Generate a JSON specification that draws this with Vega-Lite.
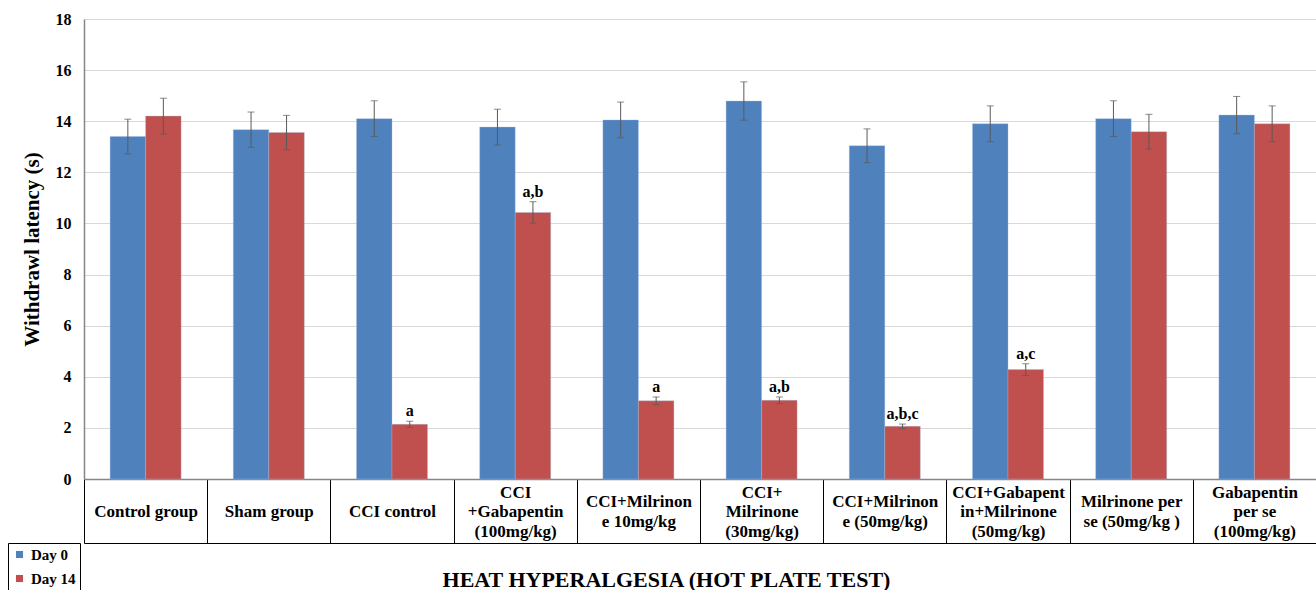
{
  "$schema": "https://vega.github.io/schema/vega-lite/v6.json",
  "width": 1232,
  "height": 460,
  "autosize": {"type": "none"},
  "padding": {"left": 84, "top": 19, "right": 0, "bottom": 111},
  "config": {"view": {"stroke": null}, "font": "Liberation Serif"},
  "data": {
    "values": [
      {"group": "Control group", "day": "Day 0", "mean": 13.4, "lo": 12.72, "hi": 14.08, "sig": ""},
      {"group": "Control group", "day": "Day 14", "mean": 14.2, "lo": 13.5, "hi": 14.9, "sig": ""},
      {"group": "Sham group", "day": "Day 0", "mean": 13.67, "lo": 12.98, "hi": 14.36, "sig": ""},
      {"group": "Sham group", "day": "Day 14", "mean": 13.56, "lo": 12.89, "hi": 14.23, "sig": ""},
      {"group": "CCI control", "day": "Day 0", "mean": 14.1, "lo": 13.4, "hi": 14.8, "sig": ""},
      {"group": "CCI control", "day": "Day 14", "mean": 2.14, "lo": 2.02, "hi": 2.26, "sig": "a"},
      {"group": "CCI|+Gabapentin|(100mg/kg)", "day": "Day 0", "mean": 13.77, "lo": 13.07, "hi": 14.47, "sig": ""},
      {"group": "CCI|+Gabapentin|(100mg/kg)", "day": "Day 14", "mean": 10.43, "lo": 10.01, "hi": 10.85, "sig": "a,b"},
      {"group": "CCI+Milrinon|e 10mg/kg", "day": "Day 0", "mean": 14.05, "lo": 13.35, "hi": 14.75, "sig": ""},
      {"group": "CCI+Milrinon|e 10mg/kg", "day": "Day 14", "mean": 3.06, "lo": 2.91, "hi": 3.21, "sig": "a"},
      {"group": "CCI+|Milrinone|(30mg/kg)", "day": "Day 0", "mean": 14.79, "lo": 14.04, "hi": 15.54, "sig": ""},
      {"group": "CCI+|Milrinone|(30mg/kg)", "day": "Day 14", "mean": 3.08, "lo": 2.95, "hi": 3.21, "sig": "a,b"},
      {"group": "CCI+Milrinon|e (50mg/kg)", "day": "Day 0", "mean": 13.04, "lo": 12.38, "hi": 13.7, "sig": ""},
      {"group": "CCI+Milrinon|e (50mg/kg)", "day": "Day 14", "mean": 2.06, "lo": 1.97, "hi": 2.15, "sig": "a,b,c"},
      {"group": "CCI+Gabapent|in+Milrinone|(50mg/kg)", "day": "Day 0", "mean": 13.9, "lo": 13.2, "hi": 14.6, "sig": ""},
      {"group": "CCI+Gabapent|in+Milrinone|(50mg/kg)", "day": "Day 14", "mean": 4.28, "lo": 4.05, "hi": 4.51, "sig": "a,c"},
      {"group": "Milrinone per|se (50mg/kg )", "day": "Day 0", "mean": 14.1, "lo": 13.4, "hi": 14.8, "sig": ""},
      {"group": "Milrinone per|se (50mg/kg )", "day": "Day 14", "mean": 13.59, "lo": 12.91, "hi": 14.27, "sig": ""},
      {"group": "Gabapentin|per se|(100mg/kg)", "day": "Day 0", "mean": 14.24, "lo": 13.51, "hi": 14.97, "sig": ""},
      {"group": "Gabapentin|per se|(100mg/kg)", "day": "Day 14", "mean": 13.9, "lo": 13.2, "hi": 14.6, "sig": ""}
    ]
  },
  "encoding": {
    "x": {"field": "group", "type": "nominal", "sort": null, "scale": {"paddingInner": 0, "paddingOuter": 0}},
    "xOffset": {"field": "day", "type": "nominal", "scale": {"paddingInner": 0, "paddingOuter": 0.735}}
  },
  "layer": [
    {
      "mark": {"type": "bar", "stroke": "#9dbbe0", "strokeWidth": 0.6, "strokeOpacity": 0.6},
      "encoding": {
        "x": {
          "field": "group", "type": "nominal", "sort": null,
          "axis": {
            "orient": "bottom",
            "title": null,
            "domainColor": "#868686",
            "domainWidth": 1.5,
            "ticks": true,
            "tickBand": "extent",
            "tickSize": 64,
            "tickColor": "#000000",
            "tickWidth": 1,
            "labelPadding": -51,
            "labelBaseline": "middle",
            "labelAngle": 0,
            "labelFont": "Liberation Serif",
            "labelFontWeight": "bold",
            "labelFontSize": 17,
            "labelColor": "#000000",
            "labelLineHeight": 9.75,
            "labelLimit": 200,
            "labelExpr": "length(split(datum.label, '|')) == 3 ? [split(datum.label, '|')[0], '\u200b', split(datum.label, '|')[1], '\u200b', split(datum.label, '|')[2]] : length(split(datum.label, '|')) == 2 ? ['\u200b', split(datum.label, '|')[0], '\u200b', split(datum.label, '|')[1]] : ['\u200b', '\u200b', datum.label]",
            "grid": false
          }
        },
        "y": {
          "field": "mean", "type": "quantitative",
          "scale": {"domain": [0, 18], "nice": false},
          "axis": {
            "values": [0, 2, 4, 6, 8, 10, 12, 14, 16, 18],
            "title": "Withdrawl latency (s)",
            "titleFont": "Liberation Serif",
            "titleFontSize": 21,
            "titleFontWeight": "bold",
            "titleColor": "#000000",
            "titlePadding": 13,
            "labelFont": "Liberation Serif",
            "labelFontSize": 16,
            "labelFontWeight": "bold",
            "labelColor": "#000000",
            "labelPadding": 13,
            "ticks": false,
            "domainColor": "#868686",
            "domainWidth": 1.5,
            "gridColor": "#d9d9d9",
            "gridWidth": 1
          }
        },
        "color": {
          "field": "day", "type": "nominal",
          "scale": {"domain": ["Day 0", "Day 14"], "range": ["#4F81BD", "#C0504D"]},
          "legend": {
            "orient": "none",
            "legendX": -76,
            "legendY": 524,
            "title": null,
            "symbolType": "square",
            "symbolSize": 50,
            "symbolStrokeWidth": 0,
            "labelFont": "Liberation Serif",
            "labelFontWeight": "bold",
            "labelFontSize": 15,
            "labelColor": "#000000",
            "strokeColor": "#000000",
            "padding": 4,
            "rowPadding": 8,
            "direction": "vertical"
          }
        }
      }
    },
    {
      "mark": {"type": "rule", "color": "#5a5a5a", "strokeWidth": 1},
      "encoding": {
        "x": {"field": "group", "type": "nominal", "sort": null, "axis": null},
        "y": {"field": "lo", "type": "quantitative"},
        "y2": {"field": "hi"}
      }
    },
    {
      "mark": {"type": "tick", "color": "#5a5a5a", "thickness": 1, "size": 7, "orient": "horizontal"},
      "encoding": {
        "x": {"field": "group", "type": "nominal", "sort": null, "axis": null},
        "y": {"field": "lo", "type": "quantitative"}
      }
    },
    {
      "mark": {"type": "tick", "color": "#5a5a5a", "thickness": 1, "size": 7, "orient": "horizontal"},
      "encoding": {
        "x": {"field": "group", "type": "nominal", "sort": null, "axis": null},
        "y": {"field": "hi", "type": "quantitative"}
      }
    },
    {
      "transform": [{"filter": "datum.sig != ''"}],
      "mark": {"type": "text", "font": "Liberation Serif", "fontWeight": "bold", "fontSize": 16, "color": "#000000", "baseline": "alphabetic", "dy": -5},
      "encoding": {
        "x": {
          "field": "group", "type": "nominal", "sort": null,
          "axis": {
            "orient": "bottom", "offset": 64, "labels": false, "ticks": false,
            "domainColor": "#000000", "domainWidth": 1, "grid": false,
            "title": "HEAT HYPERALGESIA (HOT PLATE TEST)",
            "titleFont": "Liberation Serif",
            "titleFontSize": 22,
            "titleFontWeight": "bold",
            "titleColor": "#000000",
            "titlePadding": 26,
            "titleX": 582,
            "titleAnchor": "middle"
          }
        },
        "y": {"field": "hi", "type": "quantitative"},
        "text": {"field": "sig"}
      }
    }
  ],
  "resolve": {"axis": {"x": "independent"}}
}
